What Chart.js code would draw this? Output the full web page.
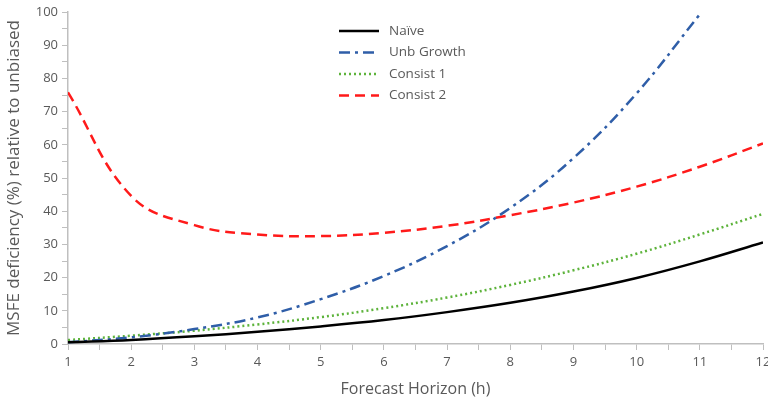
<!DOCTYPE html>
<html>
<head>
<meta charset="utf-8">
<script src="https://cdn.jsdelivr.net/npm/chart.js@4"></script>
<style>
  html, body { margin: 0; padding: 0; background: #fff; }
  #wrap { width: 768px; height: 403px; position: relative; }
</style>
</head>
<body>
<div id="wrap"><canvas id="chart"></canvas></div>
<script>
/* ==================== DATA ==================== */
const horizons = [1, 2, 3, 4, 5, 6, 7, 8, 9, 10, 11, 12];
const naive = [0.5, 1.2, 2.3, 3.7, 5.3, 7.2, 9.6, 12.4, 15.8, 19.9, 24.9, 30.6];
const unbGrowth = [0.5, 2.0, 4.5, 8.0, 13.5, 20.5, 29.5, 41.0, 56.0, 75.5, 99.3, null];
const consist1 = [1.2, 2.5, 4.0, 5.9, 8.1, 10.8, 14.0, 17.8, 22.2, 27.2, 33.0, 39.2];
const consist2 = [75.8, 44.6, 35.8, 33.0, 32.5, 33.5, 35.6, 38.8, 42.6, 47.4, 53.4, 60.4];

const GREY = '#595959';
const AXIS = '#bfbfbf';
const FONT = "'Open Sans', 'Liberation Sans', sans-serif";

function pts(vals) {
    return horizons.map((h, i) => ({ x: h, y: vals[i] }));
}

/* ==================== LEGEND (inside plot) ==================== */
const insideLegend = {
    id: 'insideLegend',
    afterDatasetsDraw(chart) {
        const ctx = chart.ctx;
        const x0 = 339, y0 = 31, rowH = 21.5, lineW = 40;
        ctx.save();
        ctx.font = '13.5px ' + FONT;
        ctx.textBaseline = 'middle';
        chart.data.datasets.forEach((ds, i) => {
            const y = y0 + i * rowH;
            ctx.strokeStyle = ds.borderColor;
            ctx.lineWidth = ds.borderWidth;
            ctx.setLineDash(ds.borderDash || []);
            ctx.beginPath();
            ctx.moveTo(x0, y);
            ctx.lineTo(x0 + lineW, y);
            ctx.stroke();
            ctx.setLineDash([]);
            ctx.fillStyle = GREY;
            ctx.fillText(ds.label, x0 + lineW + 10, y);
        });
        ctx.restore();
    }
};

/* ==================== CHART ==================== */
new Chart(document.getElementById('chart'), {
    type: 'line',
    data: {
        datasets: [
            { label: 'Naïve', data: pts(naive), borderColor: '#000000', borderWidth: 2.5 },
            { label: 'Unb Growth', data: pts(unbGrowth), borderColor: '#2f5ea8', borderWidth: 2.5, borderDash: [11, 5, 3, 5] },
            { label: 'Consist 1', data: pts(consist1), borderColor: '#5db33b', borderWidth: 2.5, borderDash: [2, 3] },
            { label: 'Consist 2', data: pts(consist2), borderColor: '#ff1a1a', borderWidth: 2.5, borderDash: [10, 6] },
        ],
    },
    options: {
        responsive: true,
        maintainAspectRatio: false,
        animation: false,
        layout: { padding: { left: 0, right: 5, top: 12, bottom: 0 } },
        elements: {
            point: { radius: 0 },
            line: { tension: 0.4, fill: false },
        },
        plugins: {
            legend: { display: false },
            tooltip: { enabled: false },
        },
        scales: {
            x: {
                type: 'linear',
                min: 1,
                max: 12,
                afterFit: (s) => { s.height = 59; s.paddingRight = 0; },
                afterBuildTicks: (s) => {
                    s.ticks = [];
                    for (let v = 1; v <= 12; v += 0.5) s.ticks.push({ value: v });
                },
                ticks: {
                    color: GREY,
                    font: { family: FONT, size: 13 },
                    padding: 4,
                    maxRotation: 0,
                    autoSkip: false,
                    callback: (v) => (Number.isInteger(v) ? v : ''),
                },
                grid: { drawOnChartArea: false, color: AXIS, tickLength: 6, lineWidth: 1 },
                border: { color: AXIS, width: 1.5 },
                title: {
                    display: true,
                    text: 'Forecast Horizon (h)',
                    color: GREY,
                    font: { family: FONT, size: 16 },
                    padding: { top: 4 },
                },
            },
            y: {
                min: 0,
                max: 100,
                afterFit: (s) => { s.width = 68; },
                ticks: {
                    stepSize: 5,
                    color: GREY,
                    font: { family: FONT, size: 13 },
                    padding: 4,
                    autoSkip: false,
                    callback: (v) => (v % 10 === 0 ? v : ''),
                },
                grid: { drawOnChartArea: false, color: AXIS, tickLength: 6, lineWidth: 1 },
                border: { color: AXIS, width: 1.5 },
                title: {
                    display: true,
                    text: 'MSFE deficiency (%) relative to unbiased',
                    color: GREY,
                    font: { family: FONT, size: 17 },
                    padding: { bottom: 1 },
                },
            },
        },
    },
    plugins: [insideLegend],
});
</script>
</body>
</html>
